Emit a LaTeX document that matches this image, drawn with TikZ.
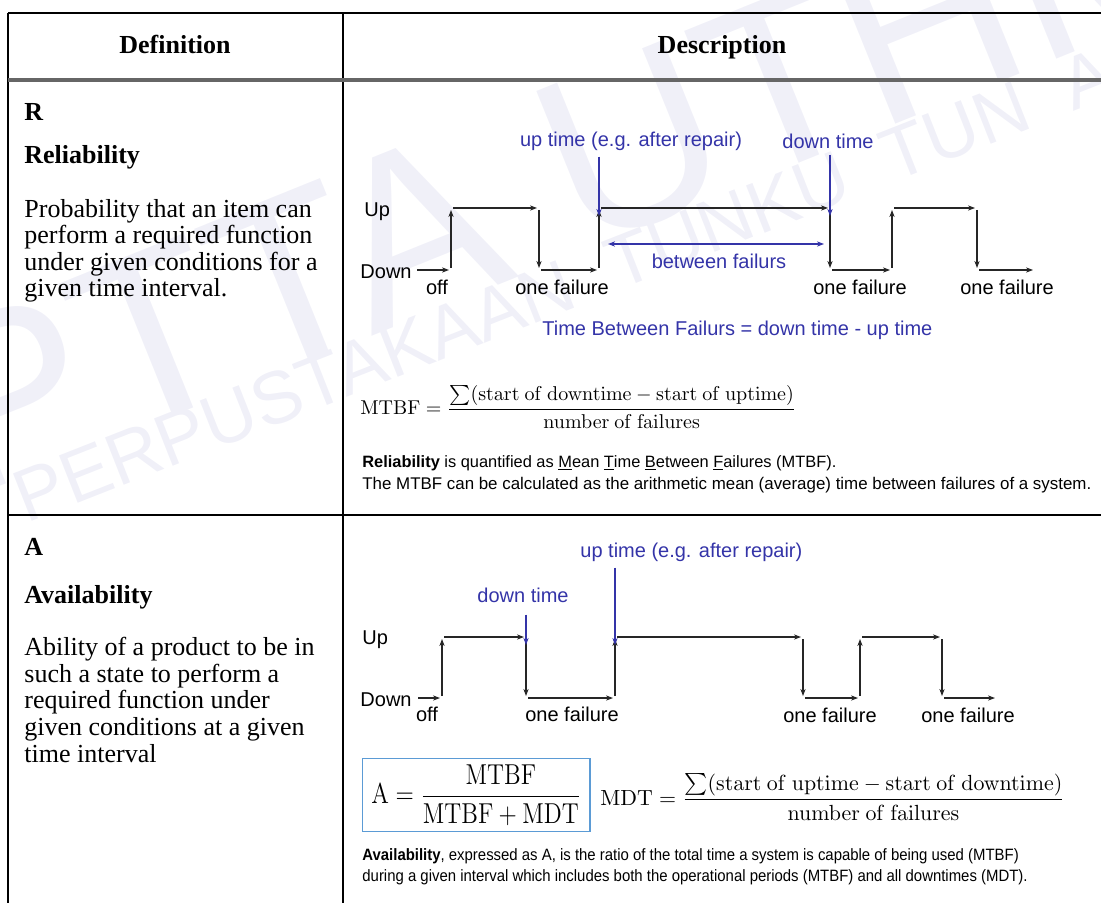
\documentclass[tikz,border=0pt]{standalone}
\usepackage[no-math]{fontspec}
\usepackage{amsmath}
\usepackage{graphicx}
\setmainfont{Liberation Serif}
\newfontfamily\arialf{Liberation Sans}
\usetikzlibrary{arrows.meta}
\definecolor{labblue}{RGB}{52,52,168}
\definecolor{boxblue}{RGB}{91,155,213}
\definecolor{wmcol}{RGB}{240,240,248}

\begin{document}
\begin{tikzpicture}[x=0.5pt,y=-0.5pt]
  \tikzstyle{wm}=[text=wmcol,inner sep=0]
  \tikzstyle{cell}=[font=\fontsize{13}{13.3}\selectfont,anchor=base west,inner sep=0,align=left]
  \tikzstyle{cellb}=[cell,font=\fontsize{13}{13.3}\selectfont\bfseries]
  \tikzstyle{lbl}=[font=\arialf\fontsize{10}{12}\selectfont,inner sep=0]
  \tikzstyle{blbl}=[lbl,text=labblue]
  \tikzstyle{note}=[font=\arialf\fontsize{8.2}{10}\selectfont,anchor=west,inner sep=0]
  \tikzstyle{wave}=[draw=black!85,line width=0.6pt,-{Stealth[length=3.5pt,width=2.6pt]},shorten >=1pt,shorten <=1pt]
  \tikzstyle{tag}=[draw=labblue,line width=0.6pt,-{Stealth[length=3.5pt,width=2.6pt]}]
  \useasboundingbox (0,0) rectangle (1101,903);

  % watermark
  \node (wmbig) [wm,rotate=22,font=\arialf\fontsize{120}{120}\selectfont] at (565,170) {PTTA UTHM};
  \node (wmline) [wm,rotate=21.5,anchor=base west,font=\arialf\fontsize{37}{37}\selectfont] at (26,524) {PERPUSTAKAAN \ TUNKU \ TUN \ AMINAH};

  % table rules
  \draw[line width=1pt] (8,13) -- (1101,13);
  \draw[line width=1pt] (8,13) -- (8,903);
  \draw[line width=1pt] (343,13) -- (343,903);
  \draw[line width=1.8pt,black!60] (8,80) -- (1101,80);
  \draw[line width=1pt] (8,515) -- (1101,515);

  % header
  \node (hdef) [font=\fontsize{13}{13}\selectfont\bfseries,anchor=base,inner sep=0] at (175,54) {Definition};
  \node (hdes) [font=\fontsize{13}{13}\selectfont\bfseries,anchor=base,inner sep=0] at (722,54) {Description};

  % left column (paragraphs anchored at their last line)
  \node (rlet) [cellb] at (24,121) {R};
  \node (rname) [cellb] at (24,164) {Reliability};
  \node (rtext) [cell] at (24,297) {Probability that an item can\\perform a required function\\under given conditions for a\\given time interval.};
  \node (alet) [cellb] at (24,555) {A};
  \node (aname) [cellb] at (24,603) {Availability};
  \node (atext) [cell] at (24,762) {Ability of a product to be in\\such a state to perform a\\required function under\\given conditions at a given\\time interval};

  % reliability time line
  \coordinate (r0) at (415,270);
  \coordinate (r1) at (451,270);
  \coordinate (r2) at (451,208);
  \coordinate (r3) at (539,208);
  \coordinate (r4) at (539,270);
  \coordinate (r5) at (599,270);
  \coordinate (r6) at (599,208);
  \coordinate (r7) at (830,208);
  \coordinate (r8) at (830,270);
  \coordinate (r9) at (892,270);
  \coordinate (r10) at (892,208);
  \coordinate (r11) at (977,208);
  \coordinate (r12) at (977,270);
  \coordinate (r13) at (1035,270);
  \foreach \a/\b in {r0/r1,r1/r2,r2/r3,r3/r4,r4/r5,r5/r6,r6/r7,r7/r8,r8/r9,r9/r10,r10/r11,r11/r12,r12/r13}
    \draw[wave] (\a) -- (\b);
  \node (rup) [lbl,anchor=west] at (364,212) {Up};
  \node (rdown) [lbl,anchor=east] at (412,272) {Down};
  \node (roff) [lbl] at (437,287) {off};
  \node (rf1) [lbl] at (562,287) {one failure};
  \node (rf2) [lbl] at (860,287) {one failure};
  \node (rf3) [lbl] at (1007,287) {one failure};
  \node (rut) [blbl] at (631,141) {up time (e.g. after repair)};
  \node (rdt) [blbl] at (828,141) {down time};
  \draw[tag] (rut.south -| r6) ++(0,6) -- ([yshift=-4pt]r6);
  \draw[tag] (rdt.south -| r7) ++(0,6) -- ([yshift=-4pt]r7);
  \coordinate (bl) at (608,244);
  \coordinate (br) at (824,244);
  \draw[tag,{Stealth[length=3.5pt,width=2.6pt]}-{Stealth[length=3.5pt,width=2.6pt]}] (bl) -- (br);
  \node (rbf) [blbl] at (719,261) {between failurs};
  \node (rtbf) [blbl,anchor=west] at (542,330) {Time Between Failurs = down time - up time};
  \node (rmtbf) [anchor=west,inner sep=0,font=\fontsize{10}{12}\selectfont] at (360,407)
    {$\mathrm{MTBF}=\dfrac{\sum(\mathrm{start\ of\ downtime}-\mathrm{start\ of\ uptime})}{\mathrm{number\ of\ failures}}$};
  \node (rq) [note] at (362,463) {\textbf{Reliability} is quantified as \underline{M}ean \underline{T}ime \underline{B}etween \underline{F}ailures (MTBF).};
  \node (rc) [note,font=\arialf\fontsize{8.45}{10}\selectfont] at (362,485) {The MTBF can be calculated as the arithmetic mean (average) time between failures of a system.};

  % availability time line
  \coordinate (a0) at (416,698);
  \coordinate (a1) at (442,698);
  \coordinate (a2) at (442,637);
  \coordinate (a3) at (526,637);
  \coordinate (a4) at (526,698);
  \coordinate (a5) at (615,698);
  \coordinate (a6) at (615,637);
  \coordinate (a7) at (803,637);
  \coordinate (a8) at (803,698);
  \coordinate (a9) at (860,698);
  \coordinate (a10) at (860,637);
  \coordinate (a11) at (942,637);
  \coordinate (a12) at (942,698);
  \coordinate (a13) at (997,698);
  \foreach \a/\b in {a0/a1,a1/a2,a2/a3,a3/a4,a4/a5,a5/a6,a6/a7,a7/a8,a8/a9,a9/a10,a10/a11,a11/a12,a12/a13}
    \draw[wave] (\a) -- (\b);
  \node (aup) [lbl,anchor=west] at (362,640) {Up};
  \node (adown) [lbl,anchor=east] at (412,700) {Down};
  \node (aoff) [lbl] at (427,714) {off};
  \node (af1) [lbl] at (572,714) {one failure};
  \node (af2) [lbl] at (830,715) {one failure};
  \node (af3) [lbl] at (968,715) {one failure};
  \node (aut) [blbl,anchor=west] at (580,552) {up time (e.g. after repair)};
  \node (adt) [blbl] at (523,595) {down time};
  \draw[tag] (adt.south -| a3) ++(0,12) -- ([yshift=-4pt]a3);
  \draw[tag] (aut.south -| a6) ++(0,6) -- ([yshift=-4pt]a6);
  \node (abox) [draw=boxblue,line width=0.7pt,inner xsep=4.3pt,inner ysep=3pt,anchor=west,font=\fontsize{12}{14}\selectfont] at (362,795)
    {\scalebox{1}[1.2]{$\mathrm{A}=\dfrac{\mathrm{MTBF}}{\mathrm{MTBF}+\mathrm{MDT}}$}};
  \node (amdt) [anchor=west,inner sep=0,font=\fontsize{11.2}{14}\selectfont] at (600,797)
    {$\mathrm{MDT}=\dfrac{\sum(\mathrm{start\ of\ uptime}-\mathrm{start\ of\ downtime})}{\mathrm{number\ of\ failures}}$};
  \node (ae) [note] at (362,856) {\scalebox{0.91}[1]{\textbf{Availability}, expressed as A, is the ratio of the total time a system is capable of being used (MTBF)}};
  \node (ad) [note] at (362,877) {\scalebox{0.91}[1]{during a given interval which includes both the operational periods (MTBF) and all downtimes (MDT).}};
\end{tikzpicture}
\end{document}
